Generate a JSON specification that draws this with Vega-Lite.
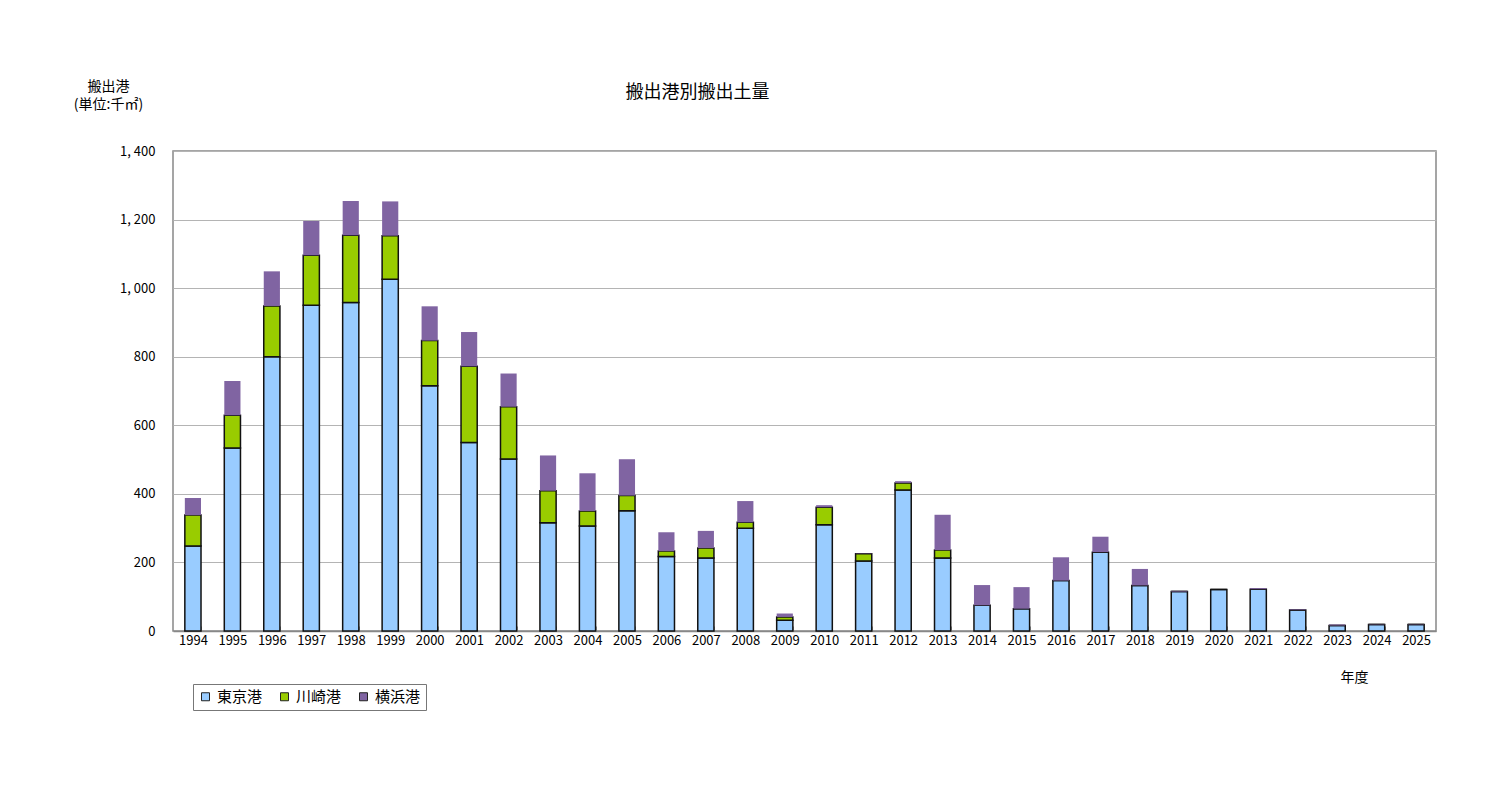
{
  "$schema": "https://vega.github.io/schema/vega-lite/v6.json",
  "autosize": "none",
  "width": 1263,
  "height": 480,
  "padding": {"left": 173, "top": 151, "right": 64, "bottom": 180},
  "background": "white",
  "title": {
    "text": "搬出港別搬出土量",
    "fontSize": 18,
    "fontWeight": "normal",
    "font": "Noto Sans CJK JP",
    "color": "#000",
    "frame": "group",
    "anchor": "middle",
    "dx": -107,
    "dy": 71,
    "offset": 48
  },
  "data": {
    "values": [
      {"year": 1994, "port": "東京港", "value": 248}, {"year": 1994, "port": "川崎港", "value": 90}, {"year": 1994, "port": "横浜港", "value": 50},
      {"year": 1995, "port": "東京港", "value": 534}, {"year": 1995, "port": "川崎港", "value": 95}, {"year": 1995, "port": "横浜港", "value": 100},
      {"year": 1996, "port": "東京港", "value": 800}, {"year": 1996, "port": "川崎港", "value": 148}, {"year": 1996, "port": "横浜港", "value": 101},
      {"year": 1997, "port": "東京港", "value": 950}, {"year": 1997, "port": "川崎港", "value": 146}, {"year": 1997, "port": "横浜港", "value": 100},
      {"year": 1998, "port": "東京港", "value": 958}, {"year": 1998, "port": "川崎港", "value": 196}, {"year": 1998, "port": "横浜港", "value": 100},
      {"year": 1999, "port": "東京港", "value": 1026}, {"year": 1999, "port": "川崎港", "value": 127}, {"year": 1999, "port": "横浜港", "value": 100},
      {"year": 2000, "port": "東京港", "value": 715}, {"year": 2000, "port": "川崎港", "value": 132}, {"year": 2000, "port": "横浜港", "value": 100},
      {"year": 2001, "port": "東京港", "value": 550}, {"year": 2001, "port": "川崎港", "value": 222}, {"year": 2001, "port": "横浜港", "value": 100},
      {"year": 2002, "port": "東京港", "value": 502}, {"year": 2002, "port": "川崎港", "value": 152}, {"year": 2002, "port": "横浜港", "value": 97},
      {"year": 2003, "port": "東京港", "value": 316}, {"year": 2003, "port": "川崎港", "value": 93}, {"year": 2003, "port": "横浜港", "value": 103},
      {"year": 2004, "port": "東京港", "value": 306}, {"year": 2004, "port": "川崎港", "value": 44}, {"year": 2004, "port": "横浜港", "value": 110},
      {"year": 2005, "port": "東京港", "value": 351}, {"year": 2005, "port": "川崎港", "value": 44}, {"year": 2005, "port": "横浜港", "value": 106},
      {"year": 2006, "port": "東京港", "value": 217}, {"year": 2006, "port": "川崎港", "value": 16}, {"year": 2006, "port": "横浜港", "value": 55},
      {"year": 2007, "port": "東京港", "value": 213}, {"year": 2007, "port": "川崎港", "value": 29}, {"year": 2007, "port": "横浜港", "value": 50},
      {"year": 2008, "port": "東京港", "value": 300}, {"year": 2008, "port": "川崎港", "value": 17}, {"year": 2008, "port": "横浜港", "value": 62},
      {"year": 2009, "port": "東京港", "value": 31}, {"year": 2009, "port": "川崎港", "value": 10}, {"year": 2009, "port": "横浜港", "value": 10},
      {"year": 2010, "port": "東京港", "value": 310}, {"year": 2010, "port": "川崎港", "value": 51}, {"year": 2010, "port": "横浜港", "value": 6},
      {"year": 2011, "port": "東京港", "value": 204}, {"year": 2011, "port": "川崎港", "value": 21}, {"year": 2011, "port": "横浜港", "value": 1},
      {"year": 2012, "port": "東京港", "value": 411}, {"year": 2012, "port": "川崎港", "value": 21}, {"year": 2012, "port": "横浜港", "value": 5},
      {"year": 2013, "port": "東京港", "value": 213}, {"year": 2013, "port": "川崎港", "value": 23}, {"year": 2013, "port": "横浜港", "value": 103},
      {"year": 2014, "port": "東京港", "value": 75}, {"year": 2014, "port": "川崎港", "value": 0}, {"year": 2014, "port": "横浜港", "value": 59},
      {"year": 2015, "port": "東京港", "value": 65}, {"year": 2015, "port": "川崎港", "value": 0}, {"year": 2015, "port": "横浜港", "value": 63},
      {"year": 2016, "port": "東京港", "value": 147}, {"year": 2016, "port": "川崎港", "value": 0}, {"year": 2016, "port": "横浜港", "value": 68},
      {"year": 2017, "port": "東京港", "value": 230}, {"year": 2017, "port": "川崎港", "value": 0}, {"year": 2017, "port": "横浜港", "value": 45},
      {"year": 2018, "port": "東京港", "value": 133}, {"year": 2018, "port": "川崎港", "value": 0}, {"year": 2018, "port": "横浜港", "value": 48},
      {"year": 2019, "port": "東京港", "value": 115}, {"year": 2019, "port": "川崎港", "value": 0}, {"year": 2019, "port": "横浜港", "value": 2},
      {"year": 2020, "port": "東京港", "value": 121}, {"year": 2020, "port": "川崎港", "value": 0}, {"year": 2020, "port": "横浜港", "value": 0},
      {"year": 2021, "port": "東京港", "value": 122}, {"year": 2021, "port": "川崎港", "value": 0}, {"year": 2021, "port": "横浜港", "value": 3},
      {"year": 2022, "port": "東京港", "value": 61}, {"year": 2022, "port": "川崎港", "value": 0}, {"year": 2022, "port": "横浜港", "value": 2},
      {"year": 2023, "port": "東京港", "value": 16}, {"year": 2023, "port": "川崎港", "value": 0}, {"year": 2023, "port": "横浜港", "value": 3},
      {"year": 2024, "port": "東京港", "value": 19}, {"year": 2024, "port": "川崎港", "value": 0}, {"year": 2024, "port": "横浜港", "value": 1},
      {"year": 2025, "port": "東京港", "value": 19}, {"year": 2025, "port": "川崎港", "value": 0}, {"year": 2025, "port": "横浜港", "value": 1}
    ]
  },
  "transform": [
    {"calculate": "indexof(['東京港', '川崎港', '横浜港'], datum.port)", "as": "stackOrder"}
  ],
  "mark": {"type": "bar", "strokeWidth": 1.5},
  "encoding": {
    "x": {
      "field": "year",
      "type": "ordinal",
      "scale": {"paddingInner": 0.59, "paddingOuter": 0.3},
      "axis": {
        "title": "年度",
        "titleX": 1181,
        "titleY": 46,
        "titleBaseline": "middle",
        "titleFontSize": 14,
        "titleFontWeight": "normal",
        "labelAngle": 0,
        "labelFontSize": 13,
        "labelPadding": 8,
        "tickBand": "extent",
        "tickSize": -5,
        "tickColor": "#999",
        "domainColor": "#888",
        "domainWidth": 1.5
      }
    },
    "y": {
      "field": "value",
      "type": "quantitative",
      "stack": "zero",
      "scale": {"domain": [0, 1400]},
      "axis": {
        "title": ["搬出港", "(単位:千㎡)"],
        "titleAngle": 0,
        "titleAlign": "center",
        "titleBaseline": "top",
        "titleX": -65,
        "titleY": -72,
        "titleFontSize": 14,
        "titleFontWeight": "normal",
        "titleLineHeight": 18,
        "values": [0, 200, 400, 600, 800, 1000, 1200, 1400],
        "labelExpr": "replace(format(datum.value, ','), ',', ', ')",
        "labelFontSize": 13,
        "labelPadding": 18,
        "ticks": false,
        "domain": false,
        "grid": true,
        "gridColor": "#b4b4b4",
        "gridWidth": 1
      }
    },
    "color": {
      "field": "port",
      "type": "nominal",
      "scale": {
        "domain": ["東京港", "川崎港", "横浜港"],
        "range": ["#99CCFF", "#99CC00", "#8064A2"]
      },
      "legend": {
        "title": null,
        "orient": "none",
        "legendX": 20,
        "legendY": 533,
        "direction": "horizontal",
        "symbolType": "square",
        "symbolSize": 64,
        "symbolStrokeColor": "#222",
        "symbolStrokeWidth": 1,
        "labelFontSize": 15,
        "columnPadding": 14,
        "padding": 5,
        "strokeColor": "#777",
        "fillColor": "white"
      }
    },
    "stroke": {
      "condition": {"test": "datum.port !== '横浜港'", "value": "#111"},
      "value": null
    },
    "order": {"field": "stackOrder", "type": "quantitative"}
  },
  "config": {
    "font": "Noto Sans CJK JP",
    "view": {"stroke": "#888", "strokeWidth": 1.5},
    "axis": {"labelColor": "#000", "titleColor": "#000", "labelFont": "Noto Sans CJK JP", "titleFont": "Noto Sans CJK JP"},
    "legend": {"labelFont": "Noto Sans CJK JP", "labelColor": "#000"}
  }
}
